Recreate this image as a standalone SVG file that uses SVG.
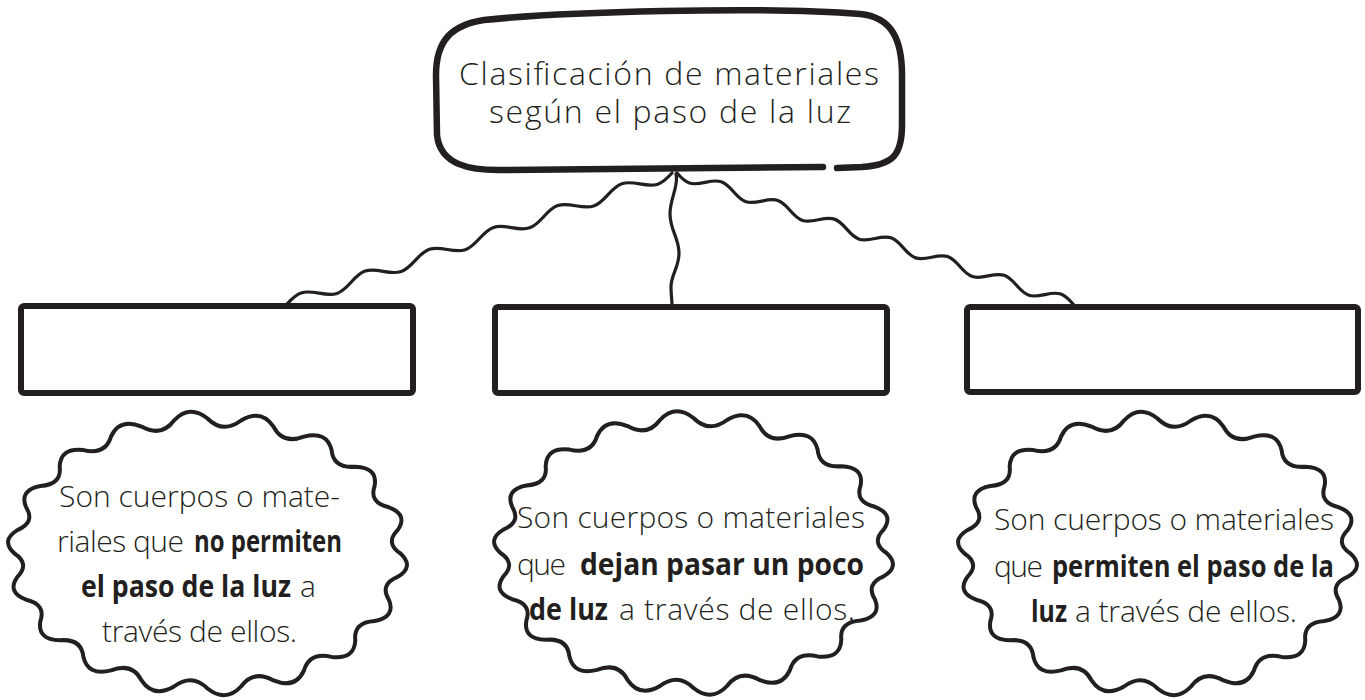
<svg xmlns="http://www.w3.org/2000/svg" xmlns:xlink="http://www.w3.org/1999/xlink" width="1365" height="700" viewBox="0 0 1365 700">
<style>
.ink{fill:none;stroke:#231f20;stroke-linecap:round;stroke-linejoin:round}
.box{stroke-width:6.5}
.rect{stroke-width:6}
.cloud{stroke-width:4}
.wire{stroke-width:3.2}
.t{font-family:"Open Sans","Liberation Sans",Arial,sans-serif;fill:#231f20;font-weight:300}
.title{font-size:32px}
.body{font-size:30px}
.b{font-weight:700}
</style>
<defs>
<path id="cloud" class="ink cloud" d="M193,0 Q207.2,13.1 190.1,23.4 Q171.9,31.1 181.4,46.2 Q188.5,63.4 167.1,67.5 Q145.8,68.8 147.8,86.8 Q147.1,106.1 124.1,103.4 Q102.1,98.3 96.5,116.9 Q87.9,135.9 66,126.9 Q46.1,115.9 33.5,133 Q18.1,149.4 0,135 Q-15.5,119.5 -33.5,133 Q-53.8,144.9 -66,126.9 Q-75.2,108.8 -96.5,116.9 Q-119.3,122.9 -124.1,103.4 Q-125.9,84.9 -147.8,86.8 Q-170.4,86 -167.1,67.5 Q-161.3,50.7 -181.4,46.2 Q-200.9,38.8 -190.1,23.4 Q-177.3,10.5 -193,0 Q-207.2,-13.1 -190.1,-23.4 Q-171.9,-31.1 -181.4,-46.2 Q-188.5,-63.4 -167.1,-67.5 Q-145.8,-68.8 -147.8,-86.8 Q-147.1,-106.1 -124.1,-103.4 Q-102.1,-98.3 -96.5,-116.9 Q-87.9,-135.9 -66,-126.9 Q-46.1,-115.9 -33.5,-133 Q-18.1,-149.4 0,-135 Q15.5,-119.5 33.5,-133 Q53.8,-144.9 66,-126.9 Q75.2,-108.8 96.5,-116.9 Q119.3,-122.9 124.1,-103.4 Q125.9,-84.9 147.8,-86.8 Q170.4,-86 167.1,-67.5 Q161.3,-50.7 181.4,-46.2 Q200.9,-38.8 190.1,-23.4 Q177.3,-10.5 193,0 Z"/>
</defs>
<rect width="1365" height="700" fill="#ffffff"/>

<g id="connectors">
<path class="ink wire" transform="translate(672,173) rotate(161.2)" d="M0,0 c14.4,-8 19.5,-8 33.9,0 s19.5,8 33.9,0 s19.5,-8 33.9,0 s19.5,8 33.9,0 s19.5,-8 33.9,0 s19.5,8 33.9,0 s19.5,-8 33.9,0 s19.5,8 33.9,0 s19.5,-8 33.9,0 s19.5,8 33.9,0 s19.5,-8 33.9,0 s19.5,8 33.9,0"/>
<path class="ink wire" transform="translate(677,173) rotate(18.3)" d="M0,0 c12.6,7.5 17.2,7.5 29.8,0 s17.2,-7.5 29.8,0 s17.2,7.5 29.8,0 s17.2,-7.5 29.8,0 s17.2,7.5 29.8,0 s17.2,-7.5 29.8,0 s17.2,7.5 29.8,0 s17.2,-7.5 29.8,0 s17.2,7.5 29.8,0 s17.2,-7.5 29.8,0 s17.2,7.5 29.8,0 s17.2,-7.5 29.8,0 s17.2,7.5 29.8,0 s17.2,-7.5 29.8,0"/>
<path class="ink wire" d="M676,174 C679,186 670,198 670,214 C670,230 679,238 679,253 C679,268 671,274 671,287 C671,295 672,300 672,305"/>
</g>

<g id="node-root">
<path class="ink box" d="M823,167 L505,170 C470,171 440,165 437,135 L436,75 C436,40 452,25 484,20 C560,12 760,6 860,14 C892,17 902,40 902,75 L902,125 C902,155 893,165 862,167 L837,168"/>
<text class="t title" x="459" y="85" textLength="420" lengthAdjust="spacing">Clasificación de materiales</text>
<text class="t title" x="489" y="123" textLength="362" lengthAdjust="spacing">según el paso de la luz</text>
</g>

<g id="node-opacos">
<rect class="ink rect" x="21" y="306" width="392" height="87" rx="3"/>
</g>
<g id="node-translucidos">
<rect class="ink rect" x="495" y="307" width="392" height="86" rx="3"/>
</g>
<g id="node-transparentes">
<rect class="ink rect" x="967" y="307" width="391" height="85" rx="3"/>
</g>

<g id="cloud-opacos">
<use href="#cloud" xlink:href="#cloud" transform="translate(207.5,553.5)"/>
<text class="t body" x="59" y="507" textLength="281" lengthAdjust="spacing">Son cuerpos o mate-</text>
<text class="t body" x="57" y="552" textLength="127" lengthAdjust="spacing">riales que</text>
<text class="t body b" x="194" y="552" textLength="148" lengthAdjust="spacingAndGlyphs">no permiten</text>
<text class="t body b" x="81" y="597" textLength="210" lengthAdjust="spacingAndGlyphs">el paso de la luz</text>
<text class="t body" x="300" y="597">a</text>
<text class="t body" x="102" y="642" textLength="195" lengthAdjust="spacing">través de ellos.</text>
</g>

<g id="cloud-translucidos">
<use href="#cloud" xlink:href="#cloud" transform="translate(693.5,553)"/>
<text class="t body" x="517" y="528" textLength="348" lengthAdjust="spacing">Son cuerpos o materiales</text>
<text class="t body" x="517" y="575" textLength="49" lengthAdjust="spacing">que</text>
<text class="t body b" x="580" y="575" textLength="284" lengthAdjust="spacingAndGlyphs">dejan pasar un poco</text>
<text class="t body b" x="529" y="620" textLength="79" lengthAdjust="spacingAndGlyphs">de luz</text>
<text class="t body" x="619" y="620" textLength="236" lengthAdjust="spacing">a través de ellos.</text>
</g>

<g id="cloud-transparentes">
<use href="#cloud" xlink:href="#cloud" transform="translate(1157.5,553.5)"/>
<text class="t body" x="994" y="530" textLength="340" lengthAdjust="spacing">Son cuerpos o materiales</text>
<text class="t body" x="994" y="577" textLength="49" lengthAdjust="spacing">que</text>
<text class="t body b" x="1052" y="577" textLength="282" lengthAdjust="spacingAndGlyphs">permiten el paso de la</text>
<text class="t body b" x="1031" y="622" textLength="36" lengthAdjust="spacingAndGlyphs">luz</text>
<text class="t body" x="1075" y="622" textLength="222" lengthAdjust="spacing">a través de ellos.</text>
</g>
</svg>
